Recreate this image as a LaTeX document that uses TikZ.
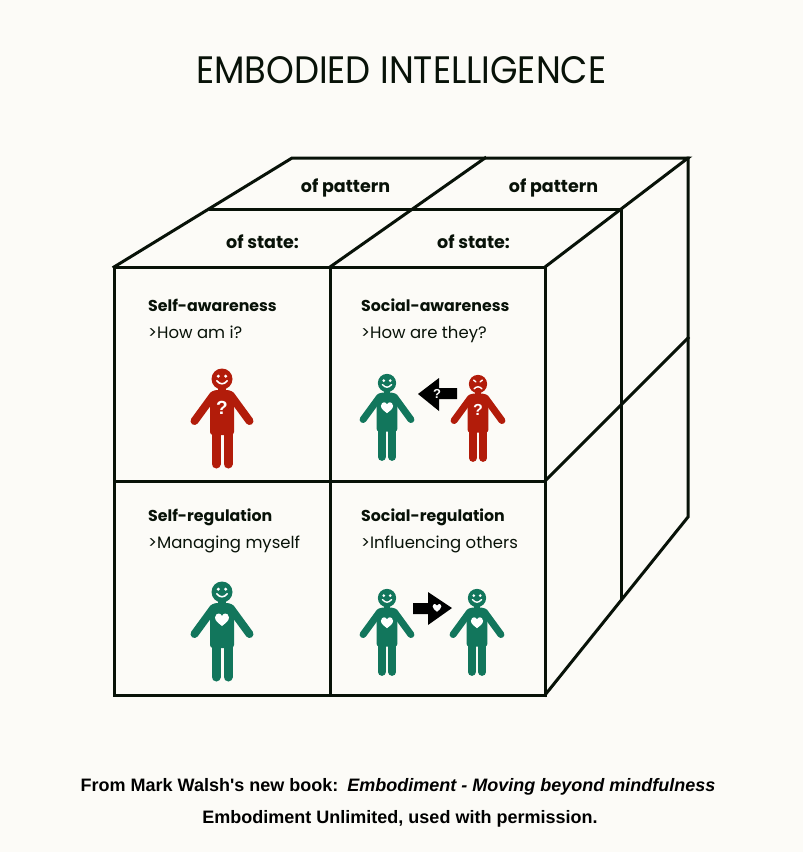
\documentclass[tikz,border=0pt]{standalone}
\usepackage{fontspec}
\usepackage{graphicx}
\newfontfamily\pop{Poppins}
\newfontfamily\arl{Liberation Sans}
\definecolor{bg}{RGB}{252,251,247}
\definecolor{figgreen}{RGB}{18,118,92}
\definecolor{figred}{RGB}{178,28,10}
\definecolor{ink}{RGB}{8,18,8}
\tikzset{
  cube/.style={draw=ink, line width=3pt, line join=miter, line cap=rect},
  head/.style={anchor=base west, inner sep=0pt, text=ink, font=\pop\bfseries\fontsize{15.8}{18}\selectfont},
  sub/.style={anchor=base west, inner sep=0pt, text=ink, font=\pop\fontsize{16.5}{18}\selectfont},
  toplabel/.style={anchor=base, inner sep=0pt, text=ink, font=\pop\bfseries\fontsize{17.5}{19}\selectfont},
  credit/.style={anchor=base, inner sep=0pt, text=black, font=\arl\bfseries\fontsize{18}{20}\selectfont},
  qmark/.style={inner sep=0pt, text=white, font=\arl\bfseries\fontsize{#1}{#1}\selectfont},
  blockarrow/.style={fill=black},
  pics/person/.style 2 args={code={
    \begin{scope}[scale=#2]
      \fill[#1] (0,0) circle (10.5);
      \fill[#1] (-4,8) rectangle (4,14);
      \fill[#1, rounded corners=3pt] (-12,56) -- (-12,15) -- (-8.5,11) -- (8.5,11) -- (12,15) -- (12,56) -- cycle;
      \draw[#1, line width=#2*8pt, line cap=round] (-8.5,16) -- (-27.5,42) (8.5,16) -- (27.5,42);
      \draw[#1, line width=#2*9pt, line cap=round] (-6,50) -- (-6,85) (6,50) -- (6,85);
    \end{scope}
  }},
  pics/smile/.style={code={
    \begin{scope}[scale=#1]
      \fill[white] (-3.7,-2.8) circle (1.7) (3.7,-2.8) circle (1.7);
      \draw[white, line width=#1*1.6pt, line cap=round] (-5.2,1.8) .. controls (-2,5.8) and (2,5.8) .. (5.2,1.8);
    \end{scope}
  }},
  pics/frown/.style={code={
    \begin{scope}[scale=#1]
      \draw[white, line width=#1*1.6pt, line cap=round] (-5,-4.5) -- (-2.5,-2.5) (5,-4.5) -- (2.5,-2.5);
      \draw[white, line width=#1*1.6pt, line cap=round] (-4.5,5.5) .. controls (-2,2.5) and (2,2.5) .. (4.5,5.5);
    \end{scope}
  }},
  pics/heart/.style={code={
    \begin{scope}[scale=#1]
      \fill[white] (0,6) .. controls (-3,3.5) and (-7,1) .. (-7,-2.5)
        .. controls (-7,-5.5) and (-4.5,-6.5) .. (-3.3,-6.5)
        .. controls (-1.8,-6.5) and (-0.6,-5.5) .. (0,-4)
        .. controls (0.6,-5.5) and (1.8,-6.5) .. (3.3,-6.5)
        .. controls (4.5,-6.5) and (7,-5.5) .. (7,-2.5)
        .. controls (7,1) and (3,3.5) .. (0,6) -- cycle;
    \end{scope}
  }},
}
\begin{document}
\begin{tikzpicture}[x=1pt,y=-1pt]
\fill[bg] (0,0) rectangle (803,852);
\useasboundingbox (0,0) rectangle (803,852);

% title
\node[anchor=base west, inner sep=0pt, text=ink] (title) at (196,83)
  {\resizebox{410pt}{27pt}{\pop EMBODIED INTELLIGENCE}};

% cube coordinates
\coordinate (F00) at (114,267); \coordinate (F10) at (330,267); \coordinate (F20) at (545,267);
\coordinate (F01) at (114,481); \coordinate (F11) at (330,481); \coordinate (F21) at (545,481);
\coordinate (F02) at (114,695); \coordinate (F12) at (330,695); \coordinate (F22) at (545,695);
\coordinate (M0) at (210,209); \coordinate (M1) at (413,209); \coordinate (M2) at (621,209);
\coordinate (B0) at (292,158); \coordinate (B1) at (485,158); \coordinate (B2) at (688,158);
\coordinate (M2m) at (621,405); \coordinate (M2b) at (621,599);
\coordinate (B2m) at (688,338); \coordinate (B2b) at (688,517);

% top face
\draw[cube] (F00) -- (B0) -- (B2) -- (F20);
\draw[cube] (F10) -- (B1);
\draw[cube] (M0) -- (M2);
% right face
\draw[cube] (B2) -- (B2b) -- (F22);
\draw[cube] (M2) -- (M2b);
\draw[cube] (F21) -- (B2m);
% front face
\draw[cube] (F00) -- (F20) -- (F22) -- (F02) -- cycle;
\draw[cube] (F10) -- (F12);
\draw[cube] (F01) -- (F21);

% top labels
\node[toplabel] (p1) at (345.5,192) {of pattern};
\node[toplabel] (p2) at (553.5,192) {of pattern};
\node[toplabel] (s1) at (262.5,248) {of state:};
\node[toplabel] (s2) at (473.5,248) {of state:};

% cell texts
\node[head] (t1) at (148,311) {Self-awareness};
\node[sub]  (u1) at (148,338) {>How am i?};
\node[head] (t2) at (361,311) {Social-awareness};
\node[sub]  (u2) at (361,338) {>How are they?};
\node[head] (t3) at (148,521) {Self-regulation};
\node[sub]  (u3) at (148,548) {>Managing myself};
\node[head] (t4) at (361,521) {Social-regulation};
\node[sub]  (u4) at (361,548) {>Influencing others};

% figures: self-awareness
\pic at (222,379) {person={figred}{1}};
\pic at (222,379) {smile=1};
\node[qmark=19] (q1) at (222,408) {?};

% social-awareness
\pic at (387,383) {person={figgreen}{0.87}};
\pic at (387,383) {smile=0.87};
\pic at (387,408) {heart=0.87};
\pic at (478,384) {person={figred}{0.87}};
\pic at (478,384) {frown=0.87};
\node[qmark=16] (q2) at (478,410) {?};
\fill[blockarrow] (418,394) -- (439,378) -- (439,388) -- (457,388) -- (457,399) -- (439,399) -- (439,411) -- cycle;
\node[qmark=13] (q3) at (437,394) {?};

% self-regulation
\pic at (222,592) {person={figgreen}{1}};
\pic at (222,592) {smile=1};
\pic at (222,620) {heart=1};

% social-regulation
\pic at (387,598) {person={figgreen}{0.87}};
\pic at (387,598) {smile=0.87};
\pic at (387,623) {heart=0.87};
\pic at (477,598) {person={figgreen}{0.87}};
\pic at (477,598) {smile=0.87};
\pic at (477,623) {heart=0.87};
\fill[blockarrow] (452,608) -- (428,592) -- (428,603) -- (413,603) -- (413,614) -- (428,614) -- (428,625) -- cycle;
\pic at (437,608) {heart=0.62};

% credits
\node[credit] (c1) at (398,791) {From Mark Walsh\textquotesingle s new book:\hspace{9pt}\textit{Embodiment - Moving beyond mindfulness}};
\node[credit] (c2) at (400,823) {Embodiment Unlimited, used with permission.};
\end{tikzpicture}
\end{document}
